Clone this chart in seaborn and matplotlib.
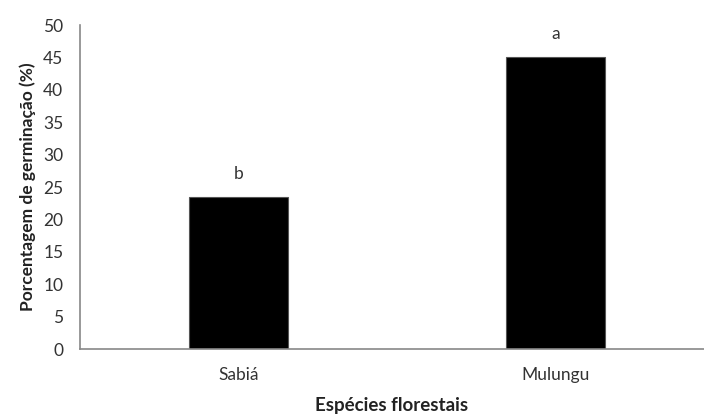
import matplotlib
matplotlib.use("Agg")
import matplotlib.pyplot as plt
import seaborn as sns
import pandas as pd

species = ["Sabiá", "Mulungu"]
germination = [23.5, 45.0]
letters = ["b", "a"]
yticks = [0, 5, 10, 15, 20, 25, 30, 35, 40, 45, 50]

sns.set_theme(style="white")
plt.rcParams["font.family"] = ["Lato", "DejaVu Sans"]

df = pd.DataFrame({"Espécie": species, "Germinação": germination})

fig = plt.figure(figsize=(7.04, 4.15), dpi=100)
ax = fig.add_axes([80/704, 66/415, 1 - 80/704, (349-25)/415])
sns.barplot(data=df, x="Espécie", y="Germinação", color="black",
            width=0.31, edgecolor="#555555", linewidth=0.8, ax=ax, saturation=1)

for i, (v, t) in enumerate(zip(germination, letters)):
    ax.text(i, v + 2.3, t, ha="center", va="bottom", fontsize=12.5, color="#333333")

ax.set_xlim(-0.5, 1.5 - 10/317)
ax.set_ylim(0, 50)
ax.set_yticks(yticks)
ax.set_yticklabels([str(t) for t in yticks])
ax.tick_params(axis="both", length=0, labelsize=12.5, colors="#333333")
ax.tick_params(axis="x", pad=13)
ax.tick_params(axis="y", pad=12)
for s in ["top", "right"]:
    ax.spines[s].set_visible(False)
for s in ["left", "bottom"]:
    ax.spines[s].set_color("#888888")
    ax.spines[s].set_linewidth(1.2)

ax.set_ylabel("Porcentagem de germinação (%)", fontsize=12.5, fontweight="bold", color="#222222", labelpad=5)
ax.set_xlabel("Espécies florestais", fontsize=13.5, fontweight="bold", color="#222222", labelpad=10)

fig.savefig("out.png", dpi=100)
